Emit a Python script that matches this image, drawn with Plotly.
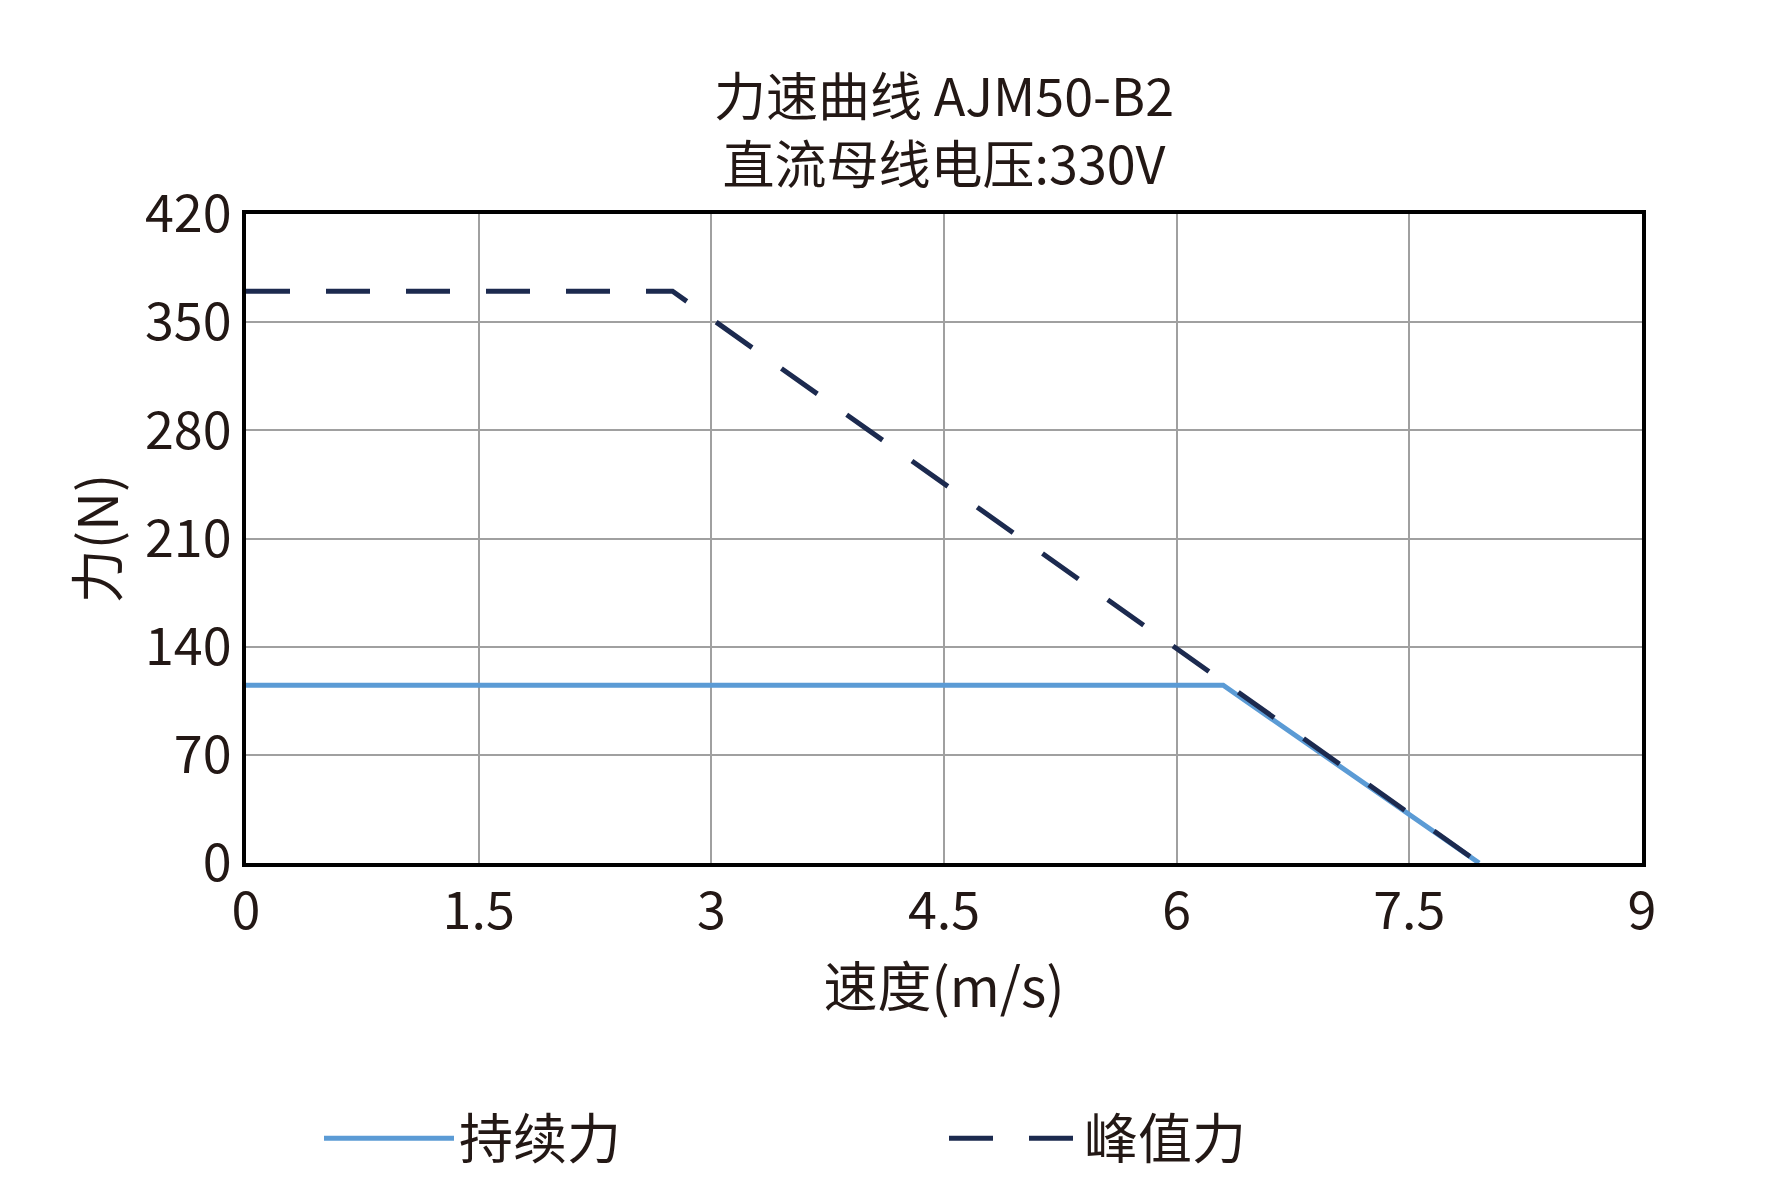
import plotly.graph_objects as go

cont_x = [0, 6.3, 7.95]
cont_y = [115, 115, 0]
peak_x = [0, 2.75, 7.95]
peak_y = [370, 370, 0]
x_ticks = [0, 1.5, 3, 4.5, 6, 7.5, 9]
y_ticks = [0, 70, 140, 210, 280, 350, 420]

F = "Noto Sans CJK SC"
fig = go.Figure()
fig.add_trace(go.Scatter(x=cont_x, y=cont_y, mode="lines", name="持续力",
                         line=dict(color="#5b9bd5", width=5)))
fig.add_trace(go.Scatter(x=peak_x, y=peak_y, mode="lines", name="峰值力",
                         line=dict(color="#1c2a4f", width=5, dash="44px,36px")))
fig.update_layout(
    width=1790, height=1184, plot_bgcolor="white", paper_bgcolor="white",
    margin=dict(l=238, r=156, t=206, b=305),
    font=dict(family=F, color="#231815", size=52),
    legend=dict(orientation="h", x=0.5, xanchor="center", y=-0.36, yanchor="top",
                font=dict(size=54), itemwidth=130, entrywidth=480),
    annotations=[dict(text="力速曲线 AJM50-B2<br>直流母线电压:330V", xref="paper", yref="paper",
                      x=0.5, y=1.02, yanchor="bottom", showarrow=False, font=dict(size=52))],
)
fig.update_xaxes(range=[0, 9], tickvals=x_ticks, ticktext=[str(v) for v in x_ticks],
                 showgrid=True, gridcolor="#a0a0a0", gridwidth=1.5,
                 showline=True, linecolor="black", linewidth=4, mirror=True,
                 title=dict(text="速度(m/s)", font=dict(size=54), standoff=20), ticks="", zeroline=False)
fig.update_yaxes(range=[0, 420], tickvals=y_ticks, showgrid=True, gridcolor="#a0a0a0",
                 gridwidth=1.5, showline=True, linecolor="black", linewidth=4, mirror=True,
                 title=dict(text="力(N)", font=dict(size=54), standoff=10), ticks="", zeroline=False)
fig.write_html("out.html")
